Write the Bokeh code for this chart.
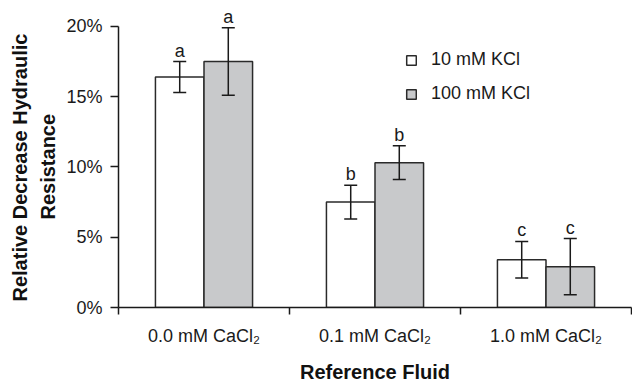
from bokeh.plotting import figure
from bokeh.models import (ColumnDataSource, Range1d, FixedTicker, CustomJSTickFormatter,
                          PrintfTickFormatter, Whisker, TeeHead, Legend, LegendItem, LabelSet, Title)
from bokeh.core.properties import value
from bokeh.embed import file_html
from bokeh.resources import INLINE

# ---- data ----
categories = ["0.0 mM CaCl\u2082", "0.1 mM CaCl\u2082", "1.0 mM CaCl\u2082"]
series_names = ["10 mM KCl", "100 mM KCl"]
kcl10 = [16.4, 7.5, 3.4]          # % decrease
kcl10_err = [1.1, 1.2, 1.3]
kcl100 = [17.5, 10.3, 2.9]
kcl100_err = [2.4, 1.2, 2.0]
kcl10_letters = ["a", "b", "c"]
kcl100_letters = ["a", "b", "c"]
y_ticks = [0, 5, 10, 15, 20]
y_title_lines = ["Relative Decrease Hydraulic", "Resistance"]
x_title = "Reference Fluid"

FONT = "Liberation Sans"
BAR_W = 0.284
idx = list(range(len(categories)))

def src(vals, errs, letters, shift):
    xs = [i + 0.5 + shift for i in idx]
    return ColumnDataSource(dict(
        x=xs, top=vals,
        upper=[v + e for v, e in zip(vals, errs)],
        lower=[v - e for v, e in zip(vals, errs)],
        letter=letters))

s10 = src(kcl10, kcl10_err, kcl10_letters, -BAR_W / 2)
s100 = src(kcl100, kcl100_err, kcl100_letters, BAR_W / 2)

p = figure(width=632, height=385, output_backend="svg", toolbar_location=None,
           x_range=Range1d(0, len(categories)), y_range=Range1d(0, 21.84),
           min_border_left=118, min_border_right=1, min_border_top=0, min_border_bottom=60)
p.outline_line_color = None
p.xgrid.grid_line_color = None
p.ygrid.grid_line_color = None
p.background_fill_color = "white"
p.border_fill_color = "white"

r10 = p.vbar(x="x", top="top", width=BAR_W, bottom=0, source=s10,
             fill_color="white", line_color="#2a2a2a", line_width=1.5)
r100 = p.vbar(x="x", top="top", width=BAR_W, bottom=0, source=s100,
              fill_color="#c8c9cb", line_color="#2a2a2a", line_width=1.5)

for s in (s10, s100):
    w = Whisker(base="x", upper="upper", lower="lower", source=s, level="overlay",
                line_color="#1a1a1a", line_width=1.5,
                upper_head=TeeHead(size=13, line_color="#1a1a1a", line_width=1.5),
                lower_head=TeeHead(size=13, line_color="#1a1a1a", line_width=1.5))
    p.add_layout(w)
    lbl = LabelSet(x="x", y="upper", text="letter", source=s, level="overlay",
                   text_align="center", text_baseline="bottom", y_offset=1,
                   text_font=value(FONT), text_font_size=value("18px"),
                   text_color="#1a1a1a")
    p.add_layout(lbl)

# axes
yax = p.yaxis[0]
yax.ticker = FixedTicker(ticks=y_ticks, minor_ticks=[])
yax.bounds = (y_ticks[0], y_ticks[-1])
yax.formatter = PrintfTickFormatter(format="%d%%")
yax.major_tick_in = 0
yax.major_tick_out = 8
yax.major_label_standoff = 8

# inner line first (closest to the axis), then the outer line
for line, so, off in zip(reversed(y_title_lines), [9, 0], [88, 6]):
    t = Title(text=line, align="left", offset=off, standoff=so,
              text_font=FONT, text_font_size="20px", text_font_style="bold",
              text_color="#111111")
    p.add_layout(t, "left")

xax = p.xaxis[0]
xax.ticker = FixedTicker(ticks=[i + 0.5 for i in idx], minor_ticks=list(range(len(categories) + 1)))
xax.formatter = CustomJSTickFormatter(args=dict(labels=categories),
                                      code="return labels[Math.floor(tick)];")
xax.major_tick_in = 0
xax.major_tick_out = 0
xax.minor_tick_in = 0
xax.minor_tick_out = 7
xax.major_label_standoff = 11
xax.axis_label = x_title
xax.axis_label_standoff = 12

for ax in (xax, yax):
    ax.axis_line_color = "#1a1a1a"
    ax.axis_line_width = 1.5
    ax.major_tick_line_color = "#1a1a1a"
    ax.major_tick_line_width = 1.5
    ax.minor_tick_line_color = "#1a1a1a"
    ax.minor_tick_line_width = 1.5
    ax.major_label_text_font = FONT
    ax.major_label_text_font_size = "18px"
    ax.major_label_text_color = "#1a1a1a"
    ax.axis_label_text_font = FONT
    ax.axis_label_text_font_size = "20px"
    ax.axis_label_text_font_style = "bold"
    ax.axis_label_text_color = "#111111"

legend = Legend(items=[LegendItem(label=series_names[0], renderers=[r10]),
                       LegendItem(label=series_names[1], renderers=[r100])],
                location=(287, 203), padding=0, margin=0, spacing=13,
                glyph_width=12, glyph_height=12, label_standoff=14,
                label_text_font=FONT, label_text_font_size="18px",
                label_text_color="#1a1a1a",
                border_line_color=None, background_fill_alpha=0)
p.add_layout(legend)

open("out.html", "w").write(file_html(p, INLINE))
